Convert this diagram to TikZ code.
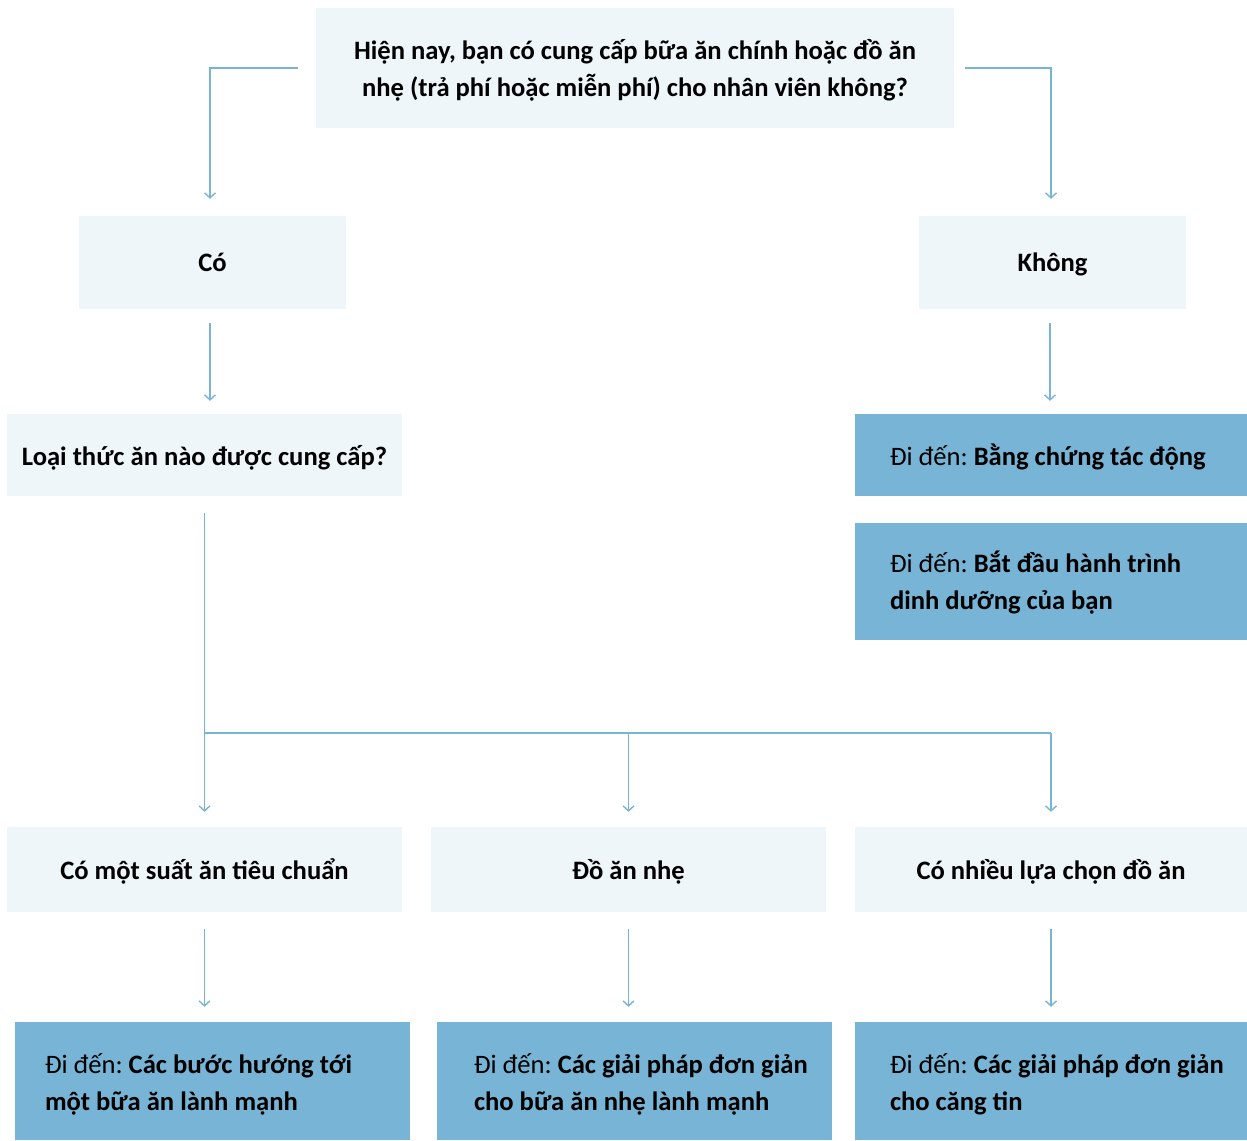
\documentclass[tikz,border=0pt]{standalone}
\usepackage{fontspec}
\setmainfont{Carlito}
\usetikzlibrary{arrows.meta}
\definecolor{lightbox}{HTML}{EEF6FA}
\definecolor{darkbox}{HTML}{78B4D5}
\definecolor{conn}{HTML}{78B4D5}
\newcommand{\ind}[1]{\hspace*{#1pt}}
\tikzset{
  lightnode/.style={fill=lightbox, inner sep=0pt, text depth=0pt, align=center, font=\fontsize{26.6}{37.5}\selectfont\bfseries},
  darknode/.style={fill=darkbox, inner sep=0pt, align=flush left, font=\fontsize{26.6}{37.5}\selectfont\frenchspacing},
  conn/.style={draw=conn, line width=1.4pt, -{Straight Barb[length=5pt,width=11pt,line width=1.4pt]}},
  connplain/.style={draw=conn, line width=1.4pt}
}
\begin{document}
\begin{tikzpicture}[x=1pt,y=-1pt]
\useasboundingbox (0,0) rectangle (1247,1140);
% top question
\node[lightnode, minimum width=638, minimum height=120] (q) at (635,68)
  {Hiện nay, bạn có cung cấp bữa ăn chính hoặc đồ ăn\\nhẹ (trả phí hoặc miễn phí) cho nhân viên không?};
\node[lightnode, minimum width=267, minimum height=93] (yes) at (212.5,262.5) {Có};
\node[lightnode, minimum width=267, minimum height=93] (no) at (1052.5,262.5) {Không};
\node[lightnode, minimum width=395, minimum height=82] (type) at (204.5,455) {Loại thức ăn nào được cung cấp?};
\node[darknode, text depth=0pt, minimum height=82, text width=392] (ev) at (1051,455) {\ind{35}Đi đến: \textbf{Bằng chứng tác động}};
\node[darknode, text depth=40pt, minimum height=117, text width=392] (start) at (1051,581.5) {\ind{35}Đi đến: \textbf{Bắt đầu hành trình}\\\ind{35}\textbf{dinh dưỡng của bạn}};
\node[lightnode, minimum width=395, minimum height=85] (std) at (204.5,869.5) {Có một suất ăn tiêu chuẩn};
\node[lightnode, minimum width=395, minimum height=85] (snack) at (628.5,869.5) {Đồ ăn nhẹ};
\node[lightnode, minimum width=392, minimum height=85] (multi) at (1051,869.5) {Có nhiều lựa chọn đồ ăn};
\node[darknode, text depth=35pt, minimum height=118, text width=395] (g1) at (212.5,1081) {\ind{30}Đi đến: \textbf{Các bước hướng tới}\\\ind{30}\textbf{một bữa ăn lành mạnh}};
\node[darknode, text depth=35pt, minimum height=118, text width=395] (g2) at (634.5,1081) {\ind{37}Đi đến: \textbf{Các giải pháp đơn giản}\\\ind{37}\textbf{cho bữa ăn nhẹ lành mạnh}};
\node[darknode, text depth=35pt, minimum height=118, text width=392] (g3) at (1051,1081) {\ind{35}Đi đến: \textbf{Các giải pháp đơn giản}\\\ind{35}\textbf{cho căng tin}};
% connectors
\coordinate (qL) at ([xshift=-18pt]q.west);
\coordinate (qR) at ([xshift=11pt]q.east);
\draw[conn, shorten >=17pt] (qL) -| (210,0 |- yes.north);
\draw[conn, shorten >=17pt] (qR) -| (1051,0 |- no.north);
\draw[conn, shorten <=14pt, shorten >=13pt] (210,0 |- yes.south) -- (210,0 |- type.north);
\draw[conn, shorten <=14pt, shorten >=13pt] (1050,0 |- no.south) -- (1050,0 |- ev.north);
\coordinate (bar) at (204.5,733);
\draw[conn, shorten <=17pt, shorten >=15pt] (type.south) -- (std.north);
\draw[connplain] (bar) -- (bar -| multi.north);
\draw[conn, shorten >=15pt] (bar -| snack.north) -- (snack.north);
\draw[conn, shorten >=15pt] (bar -| multi.north) -- (multi.north);
\draw[conn, shorten <=17pt, shorten >=15pt] (std.south) -- (std.south |- g1.north);
\draw[conn, shorten <=17pt, shorten >=15pt] (snack.south) -- (snack.south |- g2.north);
\draw[conn, shorten <=17pt, shorten >=15pt] (multi.south) -- (multi.south |- g3.north);
\end{tikzpicture}
\end{document}
